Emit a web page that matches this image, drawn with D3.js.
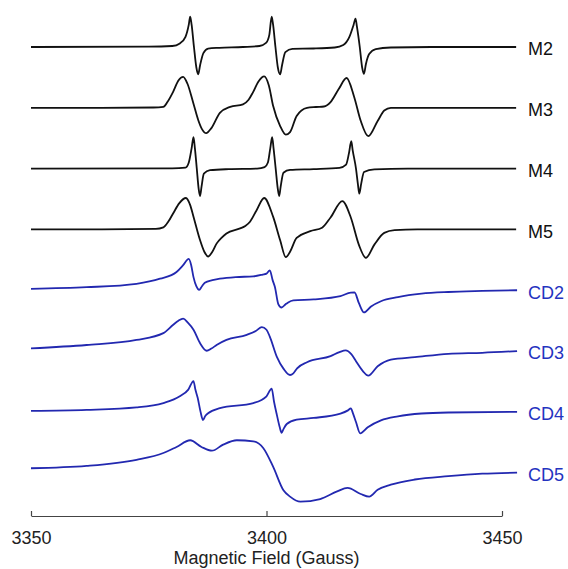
<!DOCTYPE html>
<html>
<head>
    <title>EPR Spectra</title>
    <script src="https://d3js.org/d3.v7.min.js"></script>
    <style>
        body { margin: 0; background: #fff; }
        .trace { fill: none; stroke-width: 1.8; stroke-linejoin: round; }
        .label { font: 18px 'Liberation Sans', Arial, sans-serif; }
        .axis text { font: 18px 'Liberation Sans', Arial, sans-serif; fill: #222; }
        .axis path, .axis line { stroke: #444; stroke-width: 1.2; }
    </style>
</head>
<body>
    <script>
        // field (Gauss), intensity (a.u.)
        var m2 = [[3350,0],[3375,0.3],[3380,1],[3381.6,3.5],[3382.8,10],[3383.5,22],[3383.8,30],[3384.1,22],[3384.6,0],[3385.1,-20],[3385.5,-27],[3385.9,-18],[3386.6,-6],[3387.6,-1.5],[3390,-0.8],[3395,0],[3398.5,1],[3399.9,4],[3400.6,12],[3401.1,30],[3401.4,22],[3401.9,0],[3402.4,-20],[3402.9,-27],[3403.3,-18],[3404,-5],[3405.5,-1.8],[3410,-1.5],[3414.5,-0.5],[3416.3,2],[3417.6,10],[3418.5,22],[3418.9,28],[3419.2,20],[3419.8,0],[3420.3,-20],[3420.7,-26.5],[3421.1,-17],[3421.8,-7],[3423.2,-2],[3426.4,-0.5],[3435,0],[3453,0]];
        var m3 = [[3350,0],[3365,0],[3376,0.3],[3378.1,1],[3379,6],[3380.2,16],[3381.3,27],[3382.3,30.5],[3383.2,24],[3384.5,4],[3385.5,-12],[3386.3,-21],[3387.2,-25],[3388.3,-20],[3390.1,-5],[3392.3,1],[3395,3.4],[3396.2,8],[3397.1,15],[3398.3,26],[3399.5,31],[3400.5,22],[3401.4,2],[3402.9,-18],[3404.1,-26.5],[3405,-24],[3406.4,-8],[3408.6,0],[3410.5,0.8],[3412.2,1.3],[3413.6,5.7],[3415.4,19],[3417,29.4],[3418.6,11],[3420,-12.8],[3421.6,-28],[3423.6,-13],[3425,-2.7],[3426.4,0],[3453,0]];
        var m4 = [[3350,0],[3380,0.3],[3382.8,1],[3383.5,6],[3384.1,20],[3384.5,31],[3384.8,20],[3385.2,0],[3385.6,-20],[3385.9,-27],[3386.2,-18],[3386.7,-5],[3388,-1.5],[3392,-0.5],[3398,0],[3399.6,1.5],[3400.3,6],[3400.8,20],[3401.2,31],[3401.5,20],[3401.95,0],[3402.4,-20],[3402.7,-27],[3403,-18],[3403.6,-4],[3405,-1.3],[3410,-0.5],[3415.5,0.8],[3416.9,4],[3417.5,15],[3418,27],[3418.3,18],[3419,0],[3419.4,-15],[3419.7,-24.6],[3420.1,-15],[3420.7,-3.4],[3422.9,-0.7],[3430,0],[3453,0]];
        var m5 = [[3350,0],[3365,0],[3376.5,0.5],[3378.1,2],[3379.2,8],[3380.2,16],[3381.5,26],[3382.9,31],[3383.8,24],[3384.5,12.6],[3385.9,-10.7],[3386.8,-22],[3387.6,-26.7],[3388.5,-22],[3389.4,-14],[3390.5,-8],[3391.5,-4],[3394.4,1],[3395.5,3.5],[3396.5,7.6],[3397.9,19],[3399.5,31],[3401.4,12.6],[3402.9,-10.7],[3404.1,-27.4],[3405,-22],[3406.4,-8.4],[3409.3,-1.7],[3411.8,1.7],[3413.6,11.8],[3416.1,27.9],[3417.9,11.8],[3419.6,-15],[3421.1,-28],[3422.9,-15],[3425,-3.4],[3427.2,-0.7],[3432,0],[3453,0]];
        var cd2 = [[3350,1.4],[3361.8,3],[3372.4,6.4],[3377.4,11.4],[3380.9,18],[3382.3,24.7],[3383.5,31],[3384,25],[3384.5,13],[3385.1,4],[3385.7,0.4],[3386.3,4],[3386.9,7.4],[3388.5,10],[3390.1,11.4],[3393.5,13],[3397.2,13.7],[3399.2,15.5],[3400,16.4],[3400.7,19.7],[3401.3,10],[3401.8,3],[3402.5,-13.6],[3403.2,-17],[3404,-14],[3404.6,-12],[3405.7,-10],[3410,-9],[3415.7,-5.8],[3417.9,-2.3],[3418.7,-2.2],[3419.6,-12.5],[3420.7,-21.9],[3422.2,-16],[3424.3,-10.8],[3427.9,-6.8],[3432.9,-3.4],[3438.6,-1.7],[3445.8,-0.7],[3453.2,0]];
        var cd3 = [[3350,2.7],[3361.8,6],[3372.4,11],[3378.1,17.7],[3380.2,26],[3381.3,30],[3382.3,32],[3383.3,28],[3384.5,21],[3385.9,7.7],[3387.3,0.3],[3388.3,2.5],[3389.4,6],[3391.5,11],[3395.8,16],[3397.8,20],[3399,23.7],[3400,21],[3400.7,14.3],[3402.2,-5.7],[3403.6,-17.3],[3405,-23.6],[3405.7,-22],[3406.5,-17],[3408.6,-11],[3413.6,-5],[3415.5,-1],[3416.8,0.7],[3418,-3],[3419,-10],[3420.5,-20],[3421.6,-24.3],[3423.6,-15],[3426.4,-8.4],[3431.5,-6],[3438.6,-2.7],[3445.8,-1.7],[3453.2,0]];
        var cd4 = [[3350,1],[3361.8,2],[3372.4,4.4],[3378.1,8.7],[3381.6,15.4],[3383.4,22],[3384.5,30.4],[3384.9,22],[3385.4,13.7],[3386,0],[3386.5,-8],[3387,-4],[3387.6,-1.3],[3390.1,3.7],[3397.2,8.7],[3400,15.4],[3401.1,23],[3401.6,10],[3402.2,-3],[3402.8,-15],[3403.2,-20.6],[3403.6,-17],[3404.3,-12],[3406.4,-7.7],[3410,-6],[3415.7,-1.7],[3417.3,1.5],[3417.9,3.4],[3418.4,-2],[3419,-10],[3419.9,-21.2],[3421.5,-15.2],[3424.3,-8.4],[3427.9,-4.4],[3432.9,-1.6],[3438.6,-0.6],[3453.2,0]];
        var cd5 = [[3350,4.4],[3361.8,6.7],[3372.4,12.7],[3378.1,19.4],[3380.9,25.4],[3383.8,32],[3386.2,25.4],[3388.4,21.7],[3390.8,27.7],[3393.7,32],[3397.2,31],[3399.3,24.4],[3401.4,6],[3403.6,-17.3],[3405,-23.6],[3407.2,-28.6],[3411.4,-26],[3415,-18.5],[3417.2,-15],[3420,-21],[3421.8,-23.6],[3423.6,-16.8],[3426.4,-11.8],[3431.5,-6.7],[3438.6,-3.4],[3445.8,-1],[3453.2,0]];

        var names = ["M2", "M3", "M4", "M5", "CD2", "CD3", "CD4", "CD5"];
        var spectra = [m2, m3, m4, m5, cd2, cd3, cd4, cd5];
        var xTicks = [3350, 3400, 3450];

        var width = 568, height = 569;
        var gap = 60;   // vertical offset between stacked spectra (a.u.)

        var svg = d3.select("body").append("svg")
            .attr("width", width)
            .attr("height", height);

        var x = d3.scaleLinear().domain([3350, 3450]).range([31, 502]);
        var y = d3.scaleLinear().domain([0, gap * 7]).range([472.7, 47]);

        function offset(i) { return (names.length - 1 - i) * gap; }
        function color(i) { return i < 4 ? "#111" : "#2228b0"; }

        spectra.forEach(function(s, i) {
            var line = d3.line()
                .x(function(d) { return x(d[0]); })
                .y(function(d) { return y(d[1] + offset(i)); })
                .curve(d3.curveMonotoneX);

            svg.append("path")
                .attr("class", "trace")
                .attr("d", line(s))
                .attr("stroke", color(i));

            svg.append("text")
                .attr("class", "label")
                .attr("x", 528)
                .attr("y", y(offset(i)) + 2)
                .attr("dy", "0.35em")
                .attr("fill", i < 4 ? "#111" : "#2433c0")
                .text(names[i]);
        });

        svg.append("g")
            .attr("class", "axis")
            .attr("transform", "translate(0,516)")
            .call(d3.axisBottom(x)
                .tickValues(xTicks)
                .tickFormat(d3.format("d"))
                .tickSizeInner(-5)
                .tickSizeOuter(0)
                .tickPadding(15));

        svg.append("text")
            .attr("x", (x(3350) + x(3450)) / 2)
            .attr("y", 564)
            .attr("text-anchor", "middle")
            .style("font", "18px 'Liberation Sans', Arial, sans-serif")
            .style("fill", "#222")
            .text("Magnetic Field (Gauss)");
    </script>
</body>
</html>
